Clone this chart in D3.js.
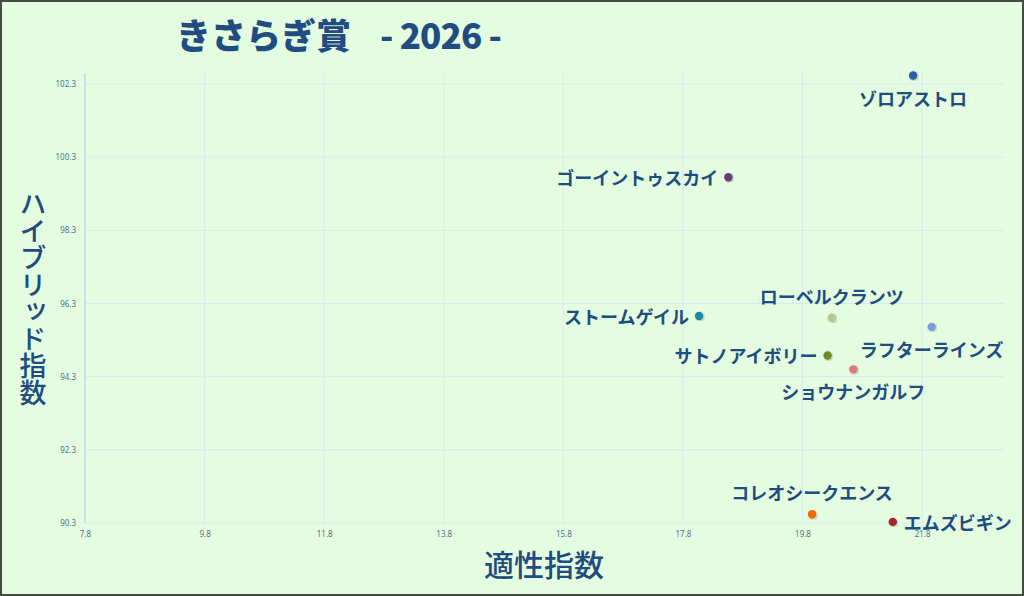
<!DOCTYPE html>
<html>
<head>
<meta charset="utf-8">
<script src="https://cdn.jsdelivr.net/npm/d3@7"></script>
<style>
  html, body { margin: 0; padding: 0; background: #e4fde0; }
  svg { display: block; }
</style>
</head>
<body>
<div id="chart"></div>
<script>
var svgWidth = 1024;
var svgHeight = 596;

// horses
var horseNames = ["ゾロアストロ", "ゴーイントゥスカイ", "ストームゲイル", "ローベルクランツ",
  "ラフターラインズ", "サトノアイボリー", "ショウナンガルフ", "コレオシークエンス", "エムズビギン"];
var fitIndex = [21.65, 18.56, 18.07, 20.29, 21.96, 20.22, 20.65, 19.96, 21.31];
var hybridIndex = [102.53, 99.75, 95.96, 95.91, 95.66, 94.88, 94.50, 90.54, 90.33];
var dotColors = ["#2a5ea6", "#6a3b7c", "#1d8aa3", "#b6c98c", "#7d9bd6", "#6d8f27", "#e07a7c", "#f26a05", "#a3262a"];
var labelSide = ["below", "left", "left", "above", "below", "left", "below", "above", "right"];

var xTicks = [7.8, 9.8, 11.8, 13.8, 15.8, 17.8, 19.8, 21.8];
var yTicks = [90.3, 92.3, 94.3, 96.3, 98.3, 100.3, 102.3];

var plot = { left: 85, right: 1004, top: 73, bottom: 523 };
var navy = "#214c80";

var svg = d3.select("#chart")
  .append("svg")
  .attr("width", svgWidth)
  .attr("height", svgHeight);

svg.append("rect")
  .attr("x", 1).attr("y", 1)
  .attr("width", svgWidth - 2).attr("height", svgHeight - 2)
  .attr("fill", "#e4fde0")
  .attr("stroke", "#454a45")
  .attr("stroke-width", 2);

var xScale = d3.scaleLinear()
  .domain([7.8, 23.17])
  .range([plot.left, plot.right]);

var yScale = d3.scaleLinear()
  .domain([90.3, 102.6])
  .range([plot.bottom, plot.top]);

// grid
svg.append("g").selectAll("line")
  .data(xTicks.slice(1))
  .enter().append("line")
  .attr("x1", d => xScale(d)).attr("x2", d => xScale(d))
  .attr("y1", plot.top).attr("y2", plot.bottom)
  .attr("stroke", "#d9e8f6").attr("stroke-width", 1);

svg.append("g").selectAll("line")
  .data(yTicks)
  .enter().append("line")
  .attr("x1", plot.left).attr("x2", plot.right)
  .attr("y1", d => yScale(d)).attr("y2", d => yScale(d))
  .attr("stroke", "#d9e8f6").attr("stroke-width", 1);

// axes (domain line only on y, labels via axis generators)
var bottomAxis = d3.axisBottom(xScale).tickValues(xTicks).tickSize(0).tickPadding(8).tickFormat(d3.format(".1f"));
var leftAxis = d3.axisLeft(yScale).tickValues(yTicks).tickSize(0).tickPadding(9).tickFormat(d3.format(".1f"));

var xAxis = svg.append("g")
  .attr("transform", `translate(0, ${plot.bottom})`)
  .call(bottomAxis);
xAxis.select(".domain").remove();

var yAxis = svg.append("g")
  .attr("transform", `translate(${plot.left}, 0)`)
  .call(leftAxis);
yAxis.select(".domain")
  .attr("d", `M0,${plot.top}V${plot.bottom}`)
  .attr("stroke", "#a9c9f0");

svg.selectAll(".tick text")
  .attr("fill", "#55708f")
  .style("font-family", "'Noto Sans', sans-serif")
  .style("font-size", "8px");

// dots
var defs = svg.append("defs");
defs.append("filter").attr("id", "shadow")
  .append("feDropShadow")
  .attr("dx", 1).attr("dy", 1).attr("stdDeviation", 1)
  .attr("flood-color", "#000").attr("flood-opacity", 0.25);

var idx = d3.range(horseNames.length);

svg.append("g").selectAll("circle")
  .data(idx)
  .enter().append("circle")
  .attr("cx", i => xScale(fitIndex[i]))
  .attr("cy", i => yScale(hybridIndex[i]))
  .attr("r", 4.2)
  .attr("fill", i => dotColors[i])
  .attr("filter", "url(#shadow)");

// labels
svg.append("g").selectAll("text")
  .data(idx)
  .enter().append("text")
  .attr("x", function(i) {
    var cx = xScale(fitIndex[i]);
    if (labelSide[i] === "left") return cx - 10;
    if (labelSide[i] === "right") return cx + 11;
    return cx;
  })
  .attr("y", function(i) {
    var cy = yScale(hybridIndex[i]);
    if (labelSide[i] === "above") return cy - 22;
    if (labelSide[i] === "below") return cy + 22;
    return cy;
  })
  .attr("text-anchor", function(i) {
    if (labelSide[i] === "left") return "end";
    if (labelSide[i] === "right") return "start";
    return "middle";
  })
  .attr("dominant-baseline", "central")
  .attr("fill", navy)
  .style("font-family", "'Noto Sans CJK JP', sans-serif")
  .style("font-weight", "700")
  .style("font-size", "18px")
  .text(i => horseNames[i]);

// title
var title = svg.append("text")
  .attr("y", 49)
  .attr("fill", navy)
  .style("font-family", "'Noto Sans CJK JP', sans-serif")
  .style("font-weight", "900")
  .style("font-size", "35px");
title.append("tspan").attr("x", 176).text("きさらぎ賞");
title.append("tspan").attr("x", 380).attr("textLength", 122).text("- 2026 -");

// axis titles
svg.append("text")
  .attr("x", 544)
  .attr("y", 563)
  .attr("text-anchor", "middle")
  .attr("dominant-baseline", "central")
  .attr("fill", navy)
  .style("font-family", "'Noto Sans CJK JP', sans-serif")
  .style("font-weight", "500")
  .style("font-size", "30px")
  .text("適性指数");

svg.append("text")
  .attr("x", 33)
  .attr("y", 298)
  .attr("text-anchor", "middle")
  .attr("fill", navy)
  .style("writing-mode", "vertical-rl")
  .style("font-family", "'Noto Sans CJK JP', sans-serif")
  .style("font-weight", "500")
  .style("font-size", "27px")
  .text("ハイブリッド指数");
</script>
</body>
</html>
